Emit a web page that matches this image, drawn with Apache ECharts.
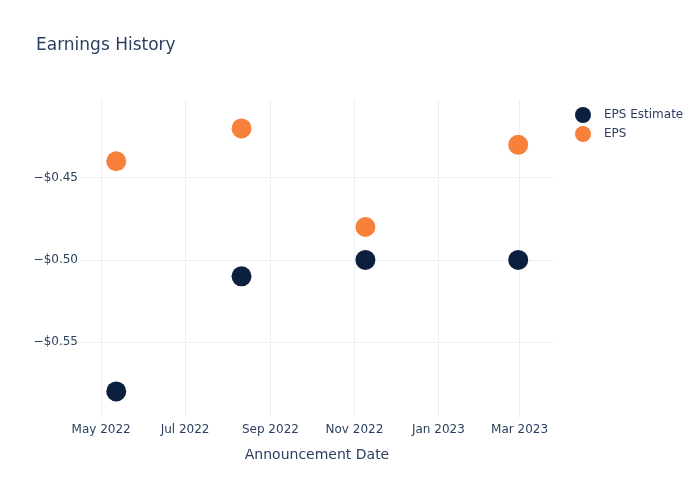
<!DOCTYPE html>
<html>
<head>
<meta charset="utf-8">
<script src="https://cdn.jsdelivr.net/npm/echarts@6/dist/echarts.min.js"></script>
<style>html,body{margin:0;padding:0;background:#fff}#c{width:700px;height:500px}</style>
</head>
<body>
<div id="c"></div>
<script>
const dates = ['2022-05-12', '2022-08-11', '2022-11-09', '2023-02-28'];
const epsEstimate = [-0.58, -0.51, -0.50, -0.50];
const eps = [-0.44, -0.42, -0.48, -0.43];
const xTickDates = ['2022-05-01', '2022-07-01', '2022-09-01', '2022-11-01', '2023-01-01', '2023-03-01'];
const xTickLabels = ['May 2022', 'Jul 2022', 'Sep 2022', 'Nov 2022', 'Jan 2023', 'Mar 2023'];
const yTicks = [-0.55, -0.50, -0.45];

const ts = d => new Date(d + 'T00:00:00Z').getTime();
const xTickVals = xTickDates.map(ts);
const font = 'DejaVu Sans';
const txt = '#2a3f5f';
const grid = '#ebf0f8';

const chart = echarts.init(document.getElementById('c'));
chart.setOption({
  animation: false,
  backgroundColor: '#fff',
  title: {
    text: 'Earnings History', left: 31, top: 32,
    textStyle: {fontFamily: font, fontSize: 17, fontWeight: 'normal', color: txt}
  },
  legend: {
    orient: 'vertical', left: 570, top: 102, itemGap: 3,
    itemWidth: 16, itemHeight: 16, icon: 'circle',
    textStyle: {fontFamily: font, fontSize: 12, color: txt, padding: [0, 0, 0, 8]},
    data: ['EPS Estimate', 'EPS']
  },
  grid: {left: 80, right: 146, top: 100, bottom: 82},
  xAxis: {
    type: 'value',
    min: ts('2022-04-15') + 16 * 3600000,
    max: ts('2023-03-26'),
    name: 'Announcement Date', nameLocation: 'middle', nameGap: 30,
    nameTextStyle: {fontFamily: font, fontSize: 14, color: txt},
    axisLine: {show: false},
    axisTick: {show: false, customValues: xTickVals},
    axisLabel: {
      customValues: xTickVals, margin: 6, hideOverlap: false,
      fontFamily: font, fontSize: 12, color: txt,
      formatter: v => { const i = xTickVals.indexOf(v); return i >= 0 ? xTickLabels[i] : ''; }
    },
    splitLine: {show: true, lineStyle: {color: grid, width: 1}}
  },
  yAxis: {
    type: 'value', min: -0.5962, max: -0.4027,
    axisLine: {show: false},
    axisTick: {show: false, customValues: yTicks},
    axisLabel: {
      customValues: yTicks, margin: 2,
      fontFamily: font, fontSize: 12, color: txt,
      formatter: v => '\u2212$' + Math.abs(v).toFixed(2)
    },
    splitLine: {show: true, lineStyle: {color: grid, width: 1}}
  },
  series: [
    {name: 'EPS Estimate', type: 'scatter', symbolSize: 20,
     itemStyle: {color: '#0b1f3f', opacity: 1},
     data: dates.map((d, i) => [ts(d), epsEstimate[i]])},
    {name: 'EPS', type: 'scatter', symbolSize: 20,
     itemStyle: {color: '#f7813a', opacity: 1},
     data: dates.map((d, i) => [ts(d), eps[i]])}
  ]
});
</script>
</body>
</html>
